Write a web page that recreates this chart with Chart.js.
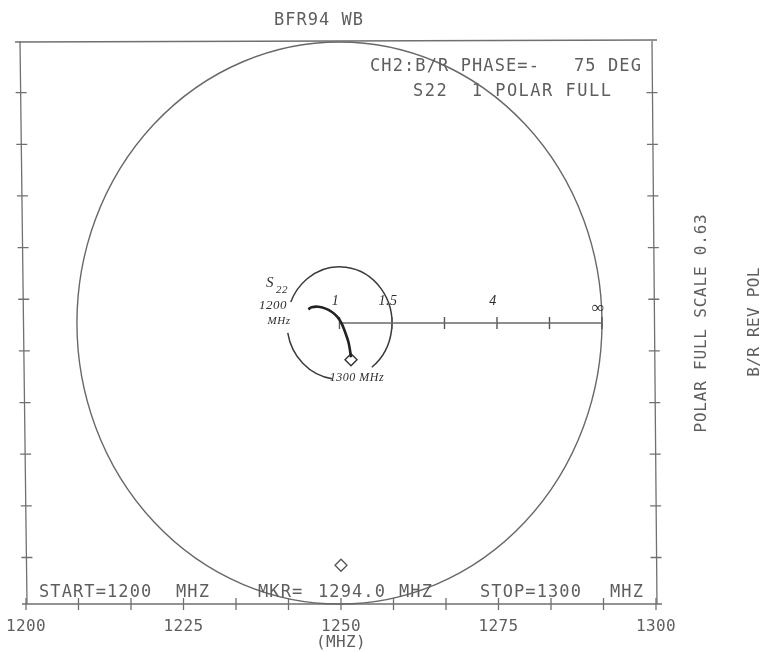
<!DOCTYPE html>
<html>
<head>
<meta charset="utf-8">
<title>BFR94 WB</title>
<script src="https://cdn.jsdelivr.net/npm/chart.js@4.4.0/dist/chart.umd.min.js"></script>
<style>
  html, body { margin: 0; padding: 0; background: #fff; }
  #wrap { width: 764px; height: 652px; }
</style>
</head>
<body>
<div id="wrap"><canvas id="polarChart" width="764" height="652"></canvas></div>
<script>
// S22 trace, 1200 MHz -> 1300 MHz (polar units, full scale = 1)
const s22Real = [-0.119, -0.106, -0.081, -0.055, -0.030, -0.008, 0.008, 0.021, 0.034, 0.040, 0.044];
const s22Imag = [0.049, 0.056, 0.058, 0.052, 0.040, 0.022, -0.001, -0.031, -0.067, -0.096, -0.122];
const markerReal = [0.044];
const markerImag = [-0.131];
// VSWR scale drawn along the radial line
const vswrRadius = [0, 0.2, 0.4, 0.6, 0.8, 1.0];
const vswrLabels = ["1", "1.5", "", "4", "", "\u221E"];
// frequency axis
const freqLabels = [1200, 1225, 1250, 1275, 1300];
const freqDivisions = 12;
const sideTicks = [1, 2, 3, 4, 5, 6, 7, 8, 9, 10];
const markerFreq = [1250];
const markerRow = [10.15];

const PLOT_FONT = '"DejaVu Sans Mono", "Liberation Mono", monospace';
const HAND_FONT = '"Liberation Serif", "DejaVu Serif", serif';

function plotText(ctx, str, x, y, size, spacing, align) {
  ctx.font = size + "px " + PLOT_FONT;
  ctx.letterSpacing = spacing + "px";
  ctx.textAlign = align || "left";
  ctx.textBaseline = "middle";
  ctx.fillText(str, x, y);
}

function handText(ctx, str, x, y, size) {
  ctx.font = "italic " + size + "px " + HAND_FONT;
  ctx.letterSpacing = "0.5px";
  ctx.textAlign = "center";
  ctx.textBaseline = "middle";
  ctx.fillText(str, x, y);
}

const plotterPlugin = {
  id: "plotter",
  beforeDatasetsDraw(chart) {
    const ctx = chart.ctx;
    const { left, right, top, bottom } = chart.chartArea;
    const x = chart.scales.x, y = chart.scales.y;
    const px = chart.scales.px, py = chart.scales.py;
    ctx.save();
    ctx.strokeStyle = "#707070";
    ctx.lineWidth = 1.3;

    // frame (the scan leans a little)
    ctx.beginPath();
    ctx.moveTo(left - 11, top + 1);
    ctx.lineTo(right + 1, top - 1);
    ctx.moveTo(left - 6, top);
    ctx.lineTo(left + 1, bottom);
    ctx.moveTo(right - 4, top - 1);
    ctx.lineTo(right + 1, bottom);
    ctx.moveTo(left - 4, bottom);
    ctx.lineTo(right + 6, bottom);
    ctx.stroke();

    // frequency divisions on the bottom line
    ctx.beginPath();
    for (let k = 0; k <= freqDivisions; k++) {
      const xp = x.getPixelForValue(x.min + (k * (x.max - x.min)) / freqDivisions);
      ctx.moveTo(xp, bottom - 6);
      ctx.lineTo(xp, bottom + 6);
    }
    // side divisions
    sideTicks.forEach((t) => {
      const yp = y.getPixelForValue(t);
      const f = (yp - top) / (bottom - top);
      const xl = left - 6 + 7 * f;
      const xr = right - 4 + 5 * f;
      ctx.moveTo(xl - 5, yp);
      ctx.lineTo(xl + 6, yp);
      ctx.moveTo(xr - 6, yp);
      ctx.lineTo(xr + 5, yp);
    });
    ctx.stroke();

    // polar full scale circle
    const cx = px.getPixelForValue(0);
    const cy = py.getPixelForValue(0);
    const rx = px.getPixelForValue(1) - cx;
    const ry = cy - py.getPixelForValue(1);
    ctx.strokeStyle = "#686868";
    ctx.lineWidth = 1.4;
    ctx.beginPath();
    ctx.ellipse(cx, cy, rx, ry, 0, 0, Math.PI * 2);
    ctx.stroke();

    // hand drawn VSWR 1.5 circle, broken where the notes sit
    const r15 = vswrRadius[1];
    const deg = Math.PI / 180;
    ctx.strokeStyle = "#3a3a3a";
    ctx.lineWidth = 1.5;
    ctx.beginPath();
    ctx.ellipse(cx, cy, rx * r15, ry * r15, 0, 52 * deg, -158 * deg, true);
    ctx.stroke();
    ctx.beginPath();
    ctx.ellipse(cx, cy, rx * r15, ry * r15, 0, -190 * deg, -262 * deg, true);
    ctx.stroke();
    ctx.restore();
  },
  afterDatasetsDraw(chart) {
    const ctx = chart.ctx;
    const { bottom } = chart.chartArea;
    const x = chart.scales.x;
    const px = chart.scales.px, py = chart.scales.py;
    ctx.save();
    ctx.fillStyle = "#5e5e5e";

    plotText(ctx, "BFR94 WB", 319, 21, 17, 1, "center");
    plotText(ctx, "CH2:B/R PHASE=-   75 DEG", 370, 67, 17, 1.1);
    plotText(ctx, "S22  1 POLAR FULL", 413, 92, 17, 1.5);

    plotText(ctx, "START=1200", 39, 593, 17, 1.1);
    plotText(ctx, "MHZ", 176, 593, 17, 1.1);
    plotText(ctx, "MKR=", 258, 593, 17, 1.1);
    plotText(ctx, "1294.0", 318, 593, 17, 1.1);
    plotText(ctx, "MHZ", 399, 593, 17, 1.1);
    plotText(ctx, "STOP=1300", 480, 593, 17, 1.1);
    plotText(ctx, "MHZ", 610, 593, 17, 1.1);

    freqLabels.forEach((f) => {
      plotText(ctx, String(f), x.getPixelForValue(f), bottom + 23, 16, 0.4, "center");
    });
    plotText(ctx, "(MHZ)", x.getPixelForValue(1250), bottom + 39, 16, 0.4, "center");

    ctx.save();
    ctx.translate(702, 323);
    ctx.rotate(-Math.PI / 2);
    plotText(ctx, "POLAR FULL SCALE 0.63", 0, 0, 16, 0.8, "center");
    ctx.restore();
    ctx.save();
    ctx.translate(755, 322);
    ctx.rotate(-Math.PI / 2);
    plotText(ctx, "B/R REV POL", 0, 0, 16, 0.3, "center");
    ctx.restore();

    // hand written notes
    ctx.fillStyle = "#2e2e2e";
    const cy = py.getPixelForValue(0);
    vswrRadius.forEach((r, i) => {
      if (!vswrLabels[i]) return;
      handText(ctx, vswrLabels[i], px.getPixelForValue(r) - 4, cy - (i === 5 ? 14 : 22), i === 5 ? 17 : 14);
    });
    handText(ctx, "S", 270, 283, 15);
    handText(ctx, "22", 282, 290, 11);
    handText(ctx, "1200", 273, 306, 13);
    handText(ctx, "MHz", 279, 321, 11);
    handText(ctx, "1300 MHz", 357, 378, 12);
    ctx.restore();
  },
};

const ctx = document.getElementById("polarChart").getContext("2d");
new Chart(ctx, {
  type: "scatter",
  data: {
    datasets: [
      {
        label: "S22",
        data: s22Real.map((re, i) => ({ x: re, y: s22Imag[i] })),
        xAxisID: "px",
        yAxisID: "py",
        showLine: true,
        tension: 0.3,
        borderColor: "#222",
        borderWidth: 2.6,
        pointRadius: 0,
      },
      {
        label: "S22 marker",
        data: markerReal.map((re, i) => ({ x: re, y: markerImag[i] })),
        xAxisID: "px",
        yAxisID: "py",
        pointStyle: "rectRot",
        pointRadius: 6,
        backgroundColor: "rgba(255,255,255,0)",
        borderColor: "#333",
        borderWidth: 1.4,
      },
      {
        label: "VSWR line",
        data: [
          { x: vswrRadius[0], y: 0 },
          { x: vswrRadius[vswrRadius.length - 1], y: 0 },
        ],
        xAxisID: "px",
        yAxisID: "py",
        showLine: true,
        borderColor: "#6a6a6a",
        borderWidth: 1.4,
        pointRadius: 0,
      },
      {
        label: "VSWR ticks",
        data: vswrRadius.map((r) => ({ x: r, y: 0 })),
        xAxisID: "px",
        yAxisID: "py",
        pointStyle: "line",
        rotation: 90,
        pointRadius: 6,
        borderColor: "#555",
        borderWidth: 1.4,
      },
      {
        label: "Marker",
        data: markerFreq.map((f, i) => ({ x: f, y: markerRow[i] })),
        xAxisID: "x",
        yAxisID: "y",
        pointStyle: "rectRot",
        pointRadius: 6,
        backgroundColor: "rgba(255,255,255,0)",
        borderColor: "#555",
        borderWidth: 1.3,
      },
    ],
  },
  options: {
    responsive: false,
    animation: false,
    devicePixelRatio: 1,
    layout: { padding: { left: 26, right: 108, top: 41, bottom: 48 } },
    plugins: {
      legend: { display: false },
      tooltip: { enabled: false },
    },
    scales: {
      x: { type: "linear", display: false, min: 1200, max: 1300 },
      y: { type: "linear", display: false, min: 0, max: 10.9, reverse: true },
      px: { type: "linear", axis: "x", display: false, min: -1.194, max: 1.2057 },
      py: { type: "linear", axis: "y", display: false, min: -1.0, max: 1.0036 },
    },
  },
  plugins: [plotterPlugin],
});
</script>
</body>
</html>
